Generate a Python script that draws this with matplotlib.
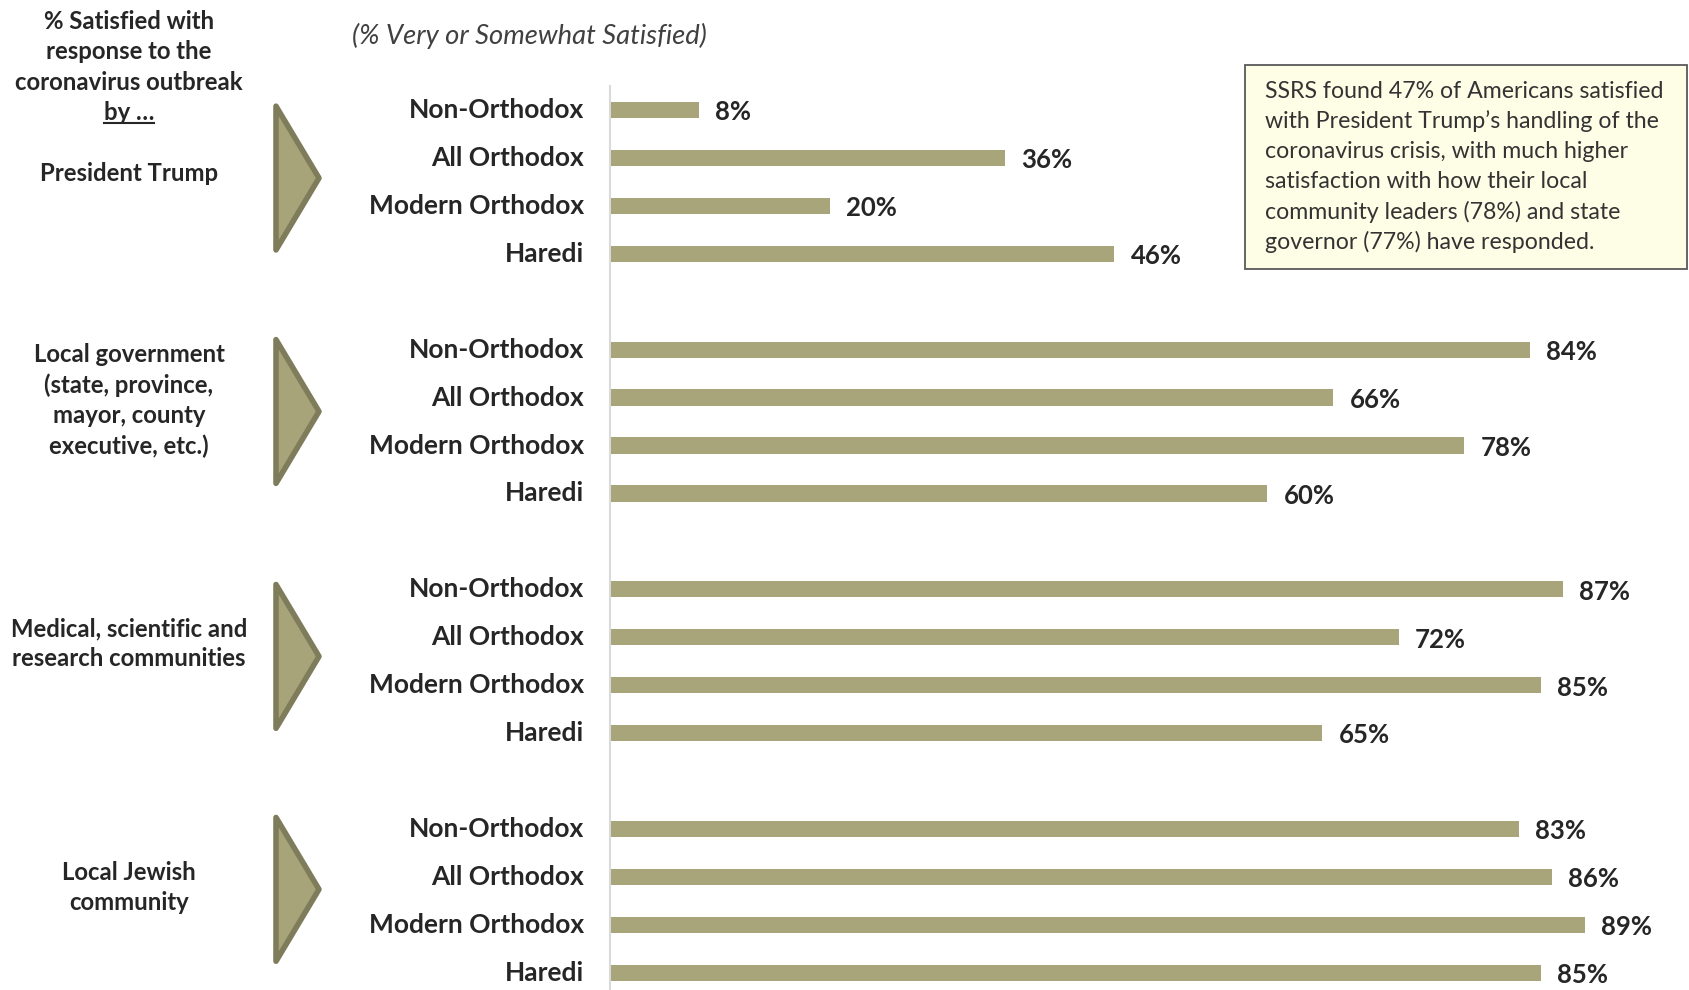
import matplotlib
matplotlib.use("Agg")
import matplotlib.pyplot as plt
from matplotlib.patches import Polygon, Rectangle
from matplotlib.lines import Line2D
from matplotlib.transforms import blended_transform_factory

# ── Data ──────────────────────────────────────────────────────────────────────
segments = ["Non-Orthodox", "All Orthodox", "Modern Orthodox", "Haredi"]
groups = [
    "President Trump",
    "Local government\n(state, province,\nmayor, county\nexecutive, etc.)",
    "Medical, scientific and\nresearch communities",
    "Local Jewish\ncommunity",
]
trump = [8, 36, 20, 46]
local_gov = [84, 66, 78, 60]
medical = [87, 72, 85, 65]
jewish = [83, 86, 89, 85]
values_by_group = [trump, local_gov, medical, jewish]

header = ["% Satisfied with", "response to the", "coronavirus outbreak", "by …"]
subtitle = "(% Very or Somewhat Satisfied)"
note_lines = [
    "SSRS found 47% of Americans satisfied",
    "with President Trump\u2019s handling of the",
    "coronavirus crisis, with much higher",
    "satisfaction with how their local",
    "community leaders (78%) and state",
    "governor (77%) have responded.",
]

# ── Style ─────────────────────────────────────────────────────────────────────
BAR = "#A9A57B"
TRI_FILL = "#A8A47A"
TRI_EDGE = "#7F7C5C"
TEXT = "#262626"
FONT = "Lato"

W, H = 1689, 990
plt.rcParams["font.family"] = [FONT, "DejaVu Sans"]

# per-group nudges (in bar slots) for the left-hand label and arrow
label_offset = [1.32, 1.06, 1.14, 1.22]
arrow_offset = [1.42, 1.29, 1.40, 1.26]


def fx(px):
    return px / W


def fy(py):
    return 1 - py / H


fig = plt.figure(figsize=(W / 100, H / 100), dpi=100)
fig.patch.set_facecolor("white")

# bar area: 0% sits at x=611 px, ~10.94 px per percentage point
ax = fig.add_axes([fx(611), 0, 1 - fx(611), 1])
ax.set_xlim(0, (W - 611) / 10.94)
slot = 47.93
ax.set_ylim((H - 110) / slot, -110 / slot)
ax.axis("off")

positions, labels, vals = [], [], []
group_start = []
for g, gvals in enumerate(values_by_group):
    start = g * (len(segments) + 1)
    group_start.append(start)
    for i, (seg, v) in enumerate(zip(segments, gvals)):
        positions.append(start + i)
        labels.append(seg)
        vals.append(v)

ax.barh(positions, vals, height=0.34, color=BAR, zorder=2)
for p, lab, v in zip(positions, labels, vals):
    ax.text(v + 1.5, p + 0.05, f"{v}%", ha="left", va="center", fontsize=18.5,
            fontweight="bold", color=TEXT)
    ax.text(-2.45, p, lab, ha="right", va="center", fontsize=19,
            fontweight="bold", color=TEXT, clip_on=False)

# vertical baseline
ax.plot([-0.05, -0.05], [-0.5, (H - 110) / slot], color="#D9D9D9", lw=1.5,
        clip_on=False, zorder=1)

# group labels and arrow triangles on the left
blend = blended_transform_factory(fig.transFigure, ax.transData)
for g, (name, start) in enumerate(zip(groups, group_start)):
    fig.text(fx(129), start + label_offset[g], name, transform=blend,
             ha="center", va="center", fontsize=17.2, fontweight="bold",
             color=TEXT, linespacing=1.37)
    mid = start + arrow_offset[g]
    tri = Polygon([[fx(276), mid - 1.5], [fx(319), mid], [fx(276), mid + 1.5]],
                  closed=True, transform=blend, facecolor=TRI_FILL,
                  edgecolor=TRI_EDGE, lw=4, joinstyle="round", clip_on=False)
    fig.patches.append(tri)

# header block
header_y = [21.5, 51.5, 82.5, 113]
header_txt = []
for line, y in zip(header, header_y):
    t = fig.text(fx(129), fy(y), line, ha="center", va="center", fontsize=17.2,
                 fontweight="bold", color=TEXT)
    header_txt.append(t)

fig.text(fx(352), fy(36), subtitle, ha="left", va="center", fontsize=19.7,
         style="italic", color="#404040")

# note box
fig.patches.append(Rectangle((fx(1245), fy(269)), fx(1687) - fx(1245),
                             fy(65) - fy(269), transform=fig.transFigure,
                             facecolor="#FEFDE6", edgecolor="#595959", lw=1.3))
for i, line in enumerate(note_lines):
    fig.text(fx(1265), fy(91 + i * 30.2), line, ha="left", va="center",
             fontsize=16.7, color="#333333")

# underline under "by …"
fig.canvas.draw()
bb = header_txt[-1].get_window_extent(fig.canvas.get_renderer())
inv = fig.transFigure.inverted()
(x0, y0), (x1, _) = inv.transform([[bb.x0, bb.y0], [bb.x1, bb.y1]])
fig.add_artist(Line2D([x0, x1], [y0 + 0.002, y0 + 0.002], color=TEXT, lw=1.5,
                      transform=fig.transFigure))

fig.savefig("out.png", dpi=100)
